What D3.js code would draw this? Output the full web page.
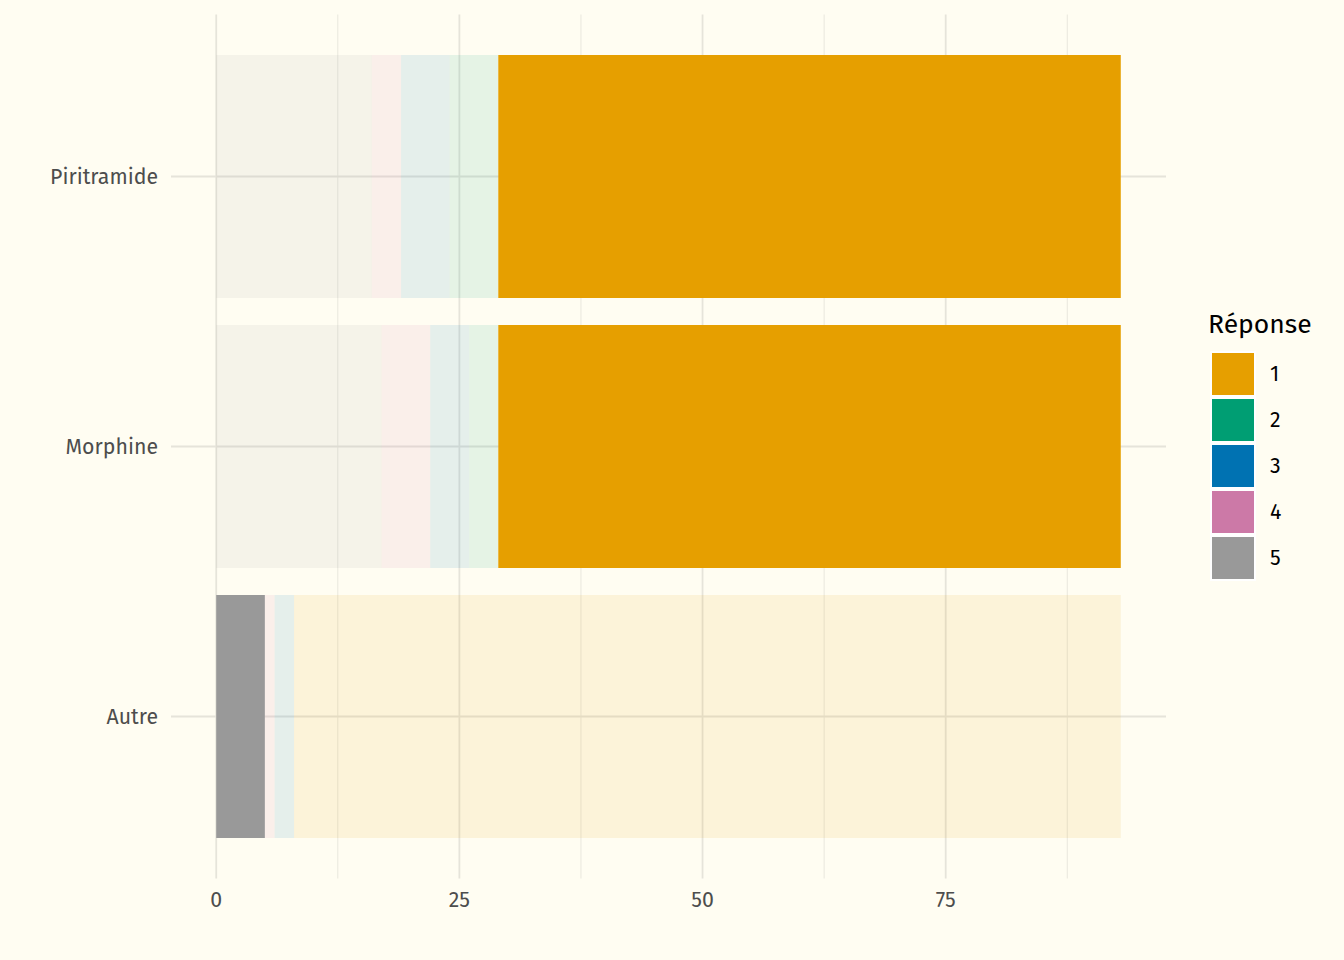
<!DOCTYPE html>
<html>
<head>
<meta charset="utf-8">
<script src="https://cdn.jsdelivr.net/npm/d3@7"></script>
<style>
  html, body { margin: 0; padding: 0; background: #FFFDF2; }
  svg { display: block; }
  text { font-family: "Fira Sans", "Open Sans", "Noto Sans", sans-serif; }
</style>
</head>
<body>
<svg id="chart" width="1344" height="960"></svg>
<script>
// ---- data ----
const categories = ["Piritramide", "Morphine", "Autre"];
const responses = ["1", "2", "3", "4", "5"];
const resp1 = [64, 64, 85];
const resp2 = [5, 3, 0];
const resp3 = [5, 4, 2];
const resp4 = [3, 5, 1];
const resp5 = [16, 17, 5];
const highlighted = ["1", "1", "5"];   // highlighted response per category
const colors = ["#E69F00", "#009E73", "#0072B2", "#CC79A7", "#999999"];
const xTicks = [0, 25, 50, 75];
const xMinor = [12.5, 37.5, 62.5, 87.5];

// ---- table ----
const series = { "1": resp1, "2": resp2, "3": resp3, "4": resp4, "5": resp5 };
const rows = categories.map((c, i) => {
  const r = { cat: c, hi: highlighted[i] };
  responses.forEach(k => r[k] = series[k][i]);
  return r;
});
const stackKeys = responses.slice().reverse(); // 5 at left ... 1 at right
const stacked = d3.stack().keys(stackKeys)(rows);
const maxTotal = d3.max(rows, r => d3.sum(responses, k => r[k]));
const color = d3.scaleOrdinal().domain(responses).range(colors);

// ---- layout ----
const panel = { left: 171, right: 1166, top: 14.5, bottom: 878.5 };
const pad = maxTotal * 0.05;
const x = d3.scaleLinear().domain([-pad, maxTotal + pad]).range([panel.left, panel.right]);
const y = d3.scaleBand().domain(categories).range([panel.top, panel.bottom])
  .paddingInner(0.1).paddingOuter(0.15);

const svg = d3.select("#chart");
svg.append("rect").attr("width", 1344).attr("height", 960).attr("fill", "#FFFDF2");

const grid = svg.append("g");
grid.selectAll("line.minor").data(xMinor).join("line")
  .attr("x1", d => x(d)).attr("x2", d => x(d))
  .attr("y1", panel.top).attr("y2", panel.bottom)
  .attr("stroke", "#E9E7DD").attr("stroke-width", 1);
grid.selectAll("line.major").data(xTicks).join("line")
  .attr("x1", d => x(d)).attr("x2", d => x(d))
  .attr("y1", panel.top).attr("y2", panel.bottom)
  .attr("stroke", "#E6E4DA").attr("stroke-width", 1.8);
grid.selectAll("line.hmajor").data(categories).join("line")
  .attr("x1", panel.left).attr("x2", panel.right)
  .attr("y1", d => y(d) + y.bandwidth() / 2).attr("y2", d => y(d) + y.bandwidth() / 2)
  .attr("stroke", "#E6E4DA").attr("stroke-width", 1.8);

// bars
const bars = svg.append("g");
stacked.forEach(s => {
  bars.selectAll(null).data(s).join("rect")
    .attr("x", d => x(d[0]))
    .attr("width", d => x(d[1]) - x(d[0]))
    .attr("y", d => y(d.data.cat))
    .attr("height", y.bandwidth())
    .attr("fill", color(s.key))
    .attr("fill-opacity", d => d.data.hi === s.key ? 1 : 0.1);
});

// axes labels
svg.append("g").selectAll("text").data(categories).join("text")
  .attr("x", 158)
  .attr("y", d => y(d) + y.bandwidth() / 2)
  .attr("dy", "0.35em")
  .attr("text-anchor", "end")
  .attr("fill", "#4D4D4D")
  .attr("font-size", 21.3)
  .text(d => d);

svg.append("g").selectAll("text").data(xTicks).join("text")
  .attr("x", d => x(d))
  .attr("y", 907)
  .attr("text-anchor", "middle")
  .attr("fill", "#4D4D4D")
  .attr("font-size", 21.3)
  .text(d => d);

// legend
const lg = svg.append("g");
lg.append("text").attr("x", 1208).attr("y", 333)
  .attr("font-size", 26.5).attr("fill", "#000").text("Réponse");
const keyY = i => 351 + i * 46;
lg.selectAll("rect.bg").data(responses).join("rect")
  .attr("x", 1210).attr("y", (d, i) => keyY(i))
  .attr("width", 46).attr("height", 46).attr("fill", "#FFFFFF");
lg.selectAll("rect.key").data(responses).join("rect")
  .attr("x", 1212).attr("y", (d, i) => keyY(i) + 2)
  .attr("width", 42).attr("height", 42).attr("fill", d => color(d));
lg.selectAll("text.lab").data(responses).join("text")
  .attr("x", 1270).attr("y", (d, i) => keyY(i) + 23)
  .attr("dy", "0.35em")
  .attr("font-size", 21.3).attr("fill", "#000").text(d => d);
</script>
</body>
</html>
